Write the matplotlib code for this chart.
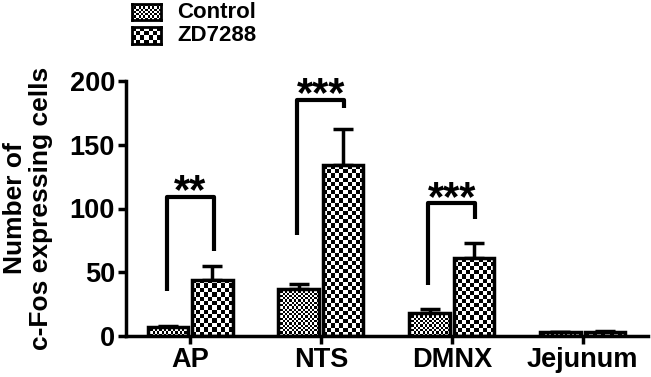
import numpy as np
import matplotlib
matplotlib.use("Agg")
from matplotlib import pyplot as plt

plt.rcParams['font.family'] = ['Liberation Sans', 'DejaVu Sans']
plt.rcParams['font.weight'] = 'bold'

regions = ["AP", "NTS", "DMNX", "Jejunum"]
control = [7, 37, 18, 3]
control_err = [0.5, 3.5, 3.5, 0.5]
zd7288 = [44, 134, 61, 3.5]
zd7288_err = [11, 28, 12, 0.8]

# significance brackets: (group, left leg bottom, top, right leg bottom, label)
sig = [(0, 35, 109, 67, "**"), (1, 79, 185, 179, "***"), (2, 40, 104, 92, "***")]

W, H, DPI = 651, 377, 100
fig = plt.figure(figsize=(W / DPI, H / DPI), dpi=DPI)
ax = fig.add_axes([126 / W, 1 - 336 / H, (648 - 126) / W, (336 - 81) / H])

x = np.arange(len(regions))
bw = 0.31
off = 0.17
b1 = ax.bar(x - off, control, bw, color="none", edgecolor="black", linewidth=2.5, zorder=3)
b2 = ax.bar(x + off, zd7288, bw, color="none", edgecolor="black", linewidth=2.5, zorder=3)
ax.errorbar(x - off, control, yerr=[np.zeros(4), control_err], fmt="none", ecolor="black",
            elinewidth=2.5, capsize=7, capthick=2.5, zorder=2)
ax.errorbar(x + off, zd7288, yerr=[np.zeros(4), zd7288_err], fmt="none", ecolor="black",
            elinewidth=2.5, capsize=7, capthick=2.5, zorder=2)

ax.set_xlim(-0.49, 3.5)
ax.set_ylim(0, 200)


def checker(n_x, n_y):
    return (np.add.outer(np.arange(n_y), np.arange(n_x)) % 2).astype(float)


def fill_checker(target_ax, patch, cell_px):
    x0, y0 = patch.get_x(), patch.get_y()
    x1, y1 = x0 + patch.get_width(), y0 + patch.get_height()
    p0 = target_ax.transData.transform((x0, y0))
    p1 = target_ax.transData.transform((x1, y1))
    nx = max(1, int(round(abs(p1[0] - p0[0]) / cell_px)))
    ny = max(1, int(round(abs(p1[1] - p0[1]) / cell_px)))
    im = target_ax.imshow(checker(nx, ny), cmap="gray", extent=(x0, x1, y0, y1),
                          interpolation="nearest", aspect="auto", zorder=2.5, vmin=0, vmax=1)
    im.set_clip_path(patch)


for p in b1:
    fill_checker(ax, p, 2.3)
for p in b2:
    fill_checker(ax, p, 4.2)
ax.set_xlim(-0.49, 3.5)
ax.set_ylim(0, 200)

for g, lb, top, rb, lab in sig:
    xl, xr = g - 0.18, g + 0.18
    ax.plot([xl, xl, xr, xr], [lb, top, top, rb], color="black", lw=3, solid_capstyle="butt", zorder=4)
    ax.annotate(lab, (g, top), xytext=(0, -4.5), textcoords="offset points",
                ha="center", va="baseline", fontsize=30, fontweight="bold")

for s in ["top", "right"]:
    ax.spines[s].set_visible(False)
ax.spines["left"].set_linewidth(2.5)
ax.spines["bottom"].set_linewidth(2.5)
ax.set_xticks(x)
ax.set_xticklabels(regions, fontsize=19.5, fontweight="bold")
ax.set_yticks([0, 50, 100, 150, 200])
ax.set_yticklabels(["0", "50", "100", "150", "200"], fontsize=19.5, fontweight="bold")
ax.tick_params(axis="both", direction="out", length=6, width=2.5, pad=2)
ax.set_ylabel("Number of\nc-Fos expressing cells", fontsize=19, fontweight="bold",
              labelpad=12, linespacing=1.12)

# legend swatches
for (yt, yb, cell, lab) in [(4, 20, 2.3, "Control"), (27, 44, 4.2, "ZD7288")]:
    lax = fig.add_axes([132 / W, 1 - yb / H, 29 / W, (yb - yt) / H])
    nx = int(round(29 / cell))
    ny = int(round((yb - yt) / cell))
    lax.imshow(checker(nx, ny), cmap="gray", interpolation="nearest", aspect="auto", vmin=0, vmax=1)
    lax.set_xticks([])
    lax.set_yticks([])
    for s in lax.spines.values():
        s.set_linewidth(2)
    fig.text(177 / W, 1 - (yt + yb) / 2 / H, lab, fontsize=16, fontweight="bold", va="center")

plt.savefig("out.png", dpi=DPI)
